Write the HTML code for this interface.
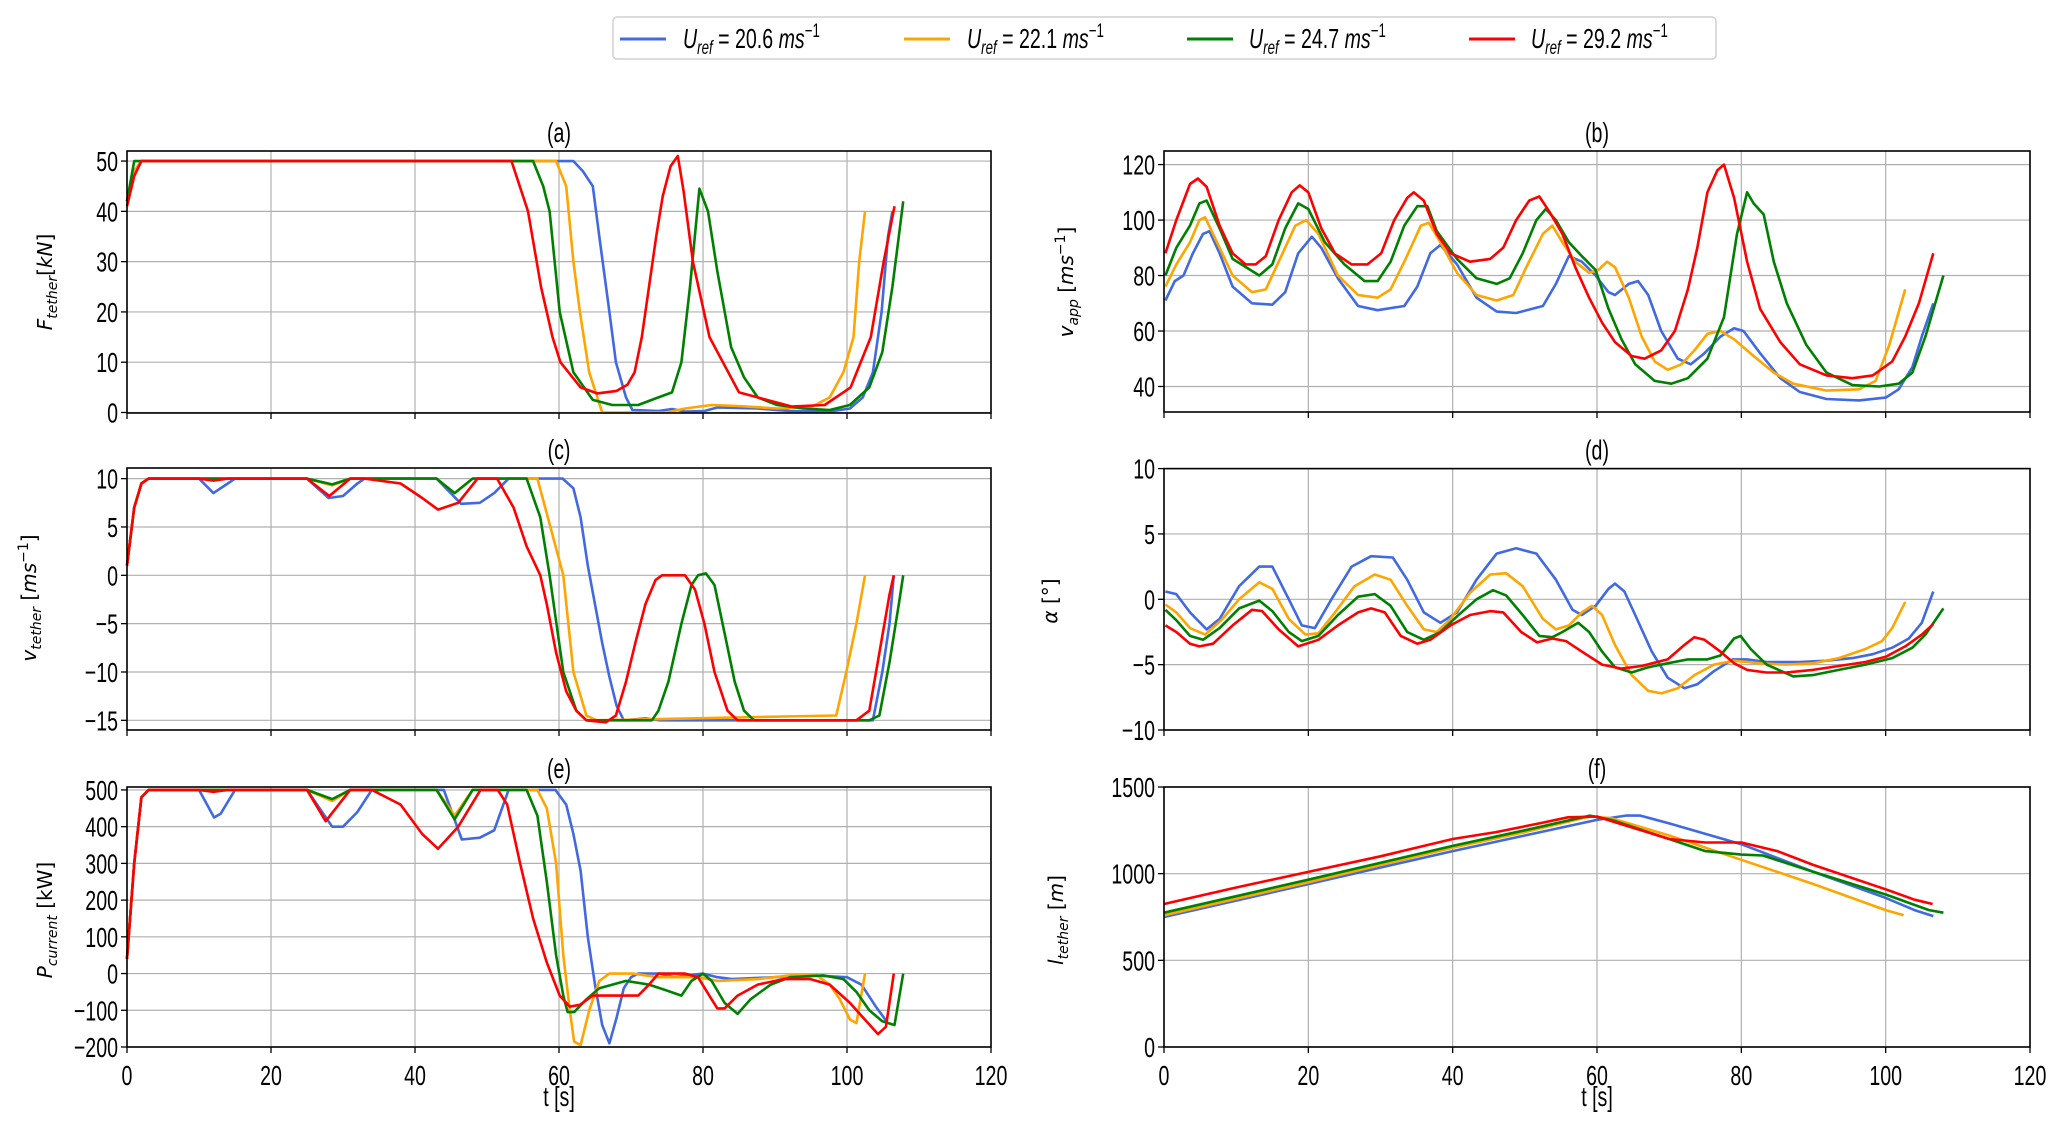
<!DOCTYPE html>
<html><head><meta charset="utf-8"><style>
html,body{margin:0;padding:0;background:#fff;}
svg{display:block;}
.tk{font-family:"Liberation Sans","DejaVu Sans",sans-serif;font-size:28px;fill:#000;}
.ml{font-family:"DejaVu Sans","Liberation Sans",sans-serif;font-size:20px;fill:#000;}
</style></head><body>
<svg id="fig" width="2067" height="1125" viewBox="0 0 2067 1125" xmlns="http://www.w3.org/2000/svg">
<rect width="2067" height="1125" fill="#fff"/>
<g>
<rect x="613" y="17" width="1103" height="42" rx="4" fill="#fff" stroke="#d0d0d0" stroke-width="1.5"/>
<g><line x1="620" y1="39" x2="666" y2="39" stroke="#4169e1" stroke-width="3"/><text class="tk" transform="translate(683,48) scale(0.7,1)"><tspan font-style="italic">U</tspan><tspan font-style="italic" font-size="19" dy="6">ref</tspan><tspan dy="-6"> = 20.6 </tspan><tspan font-style="italic">ms</tspan><tspan font-size="19" dy="-11">−1</tspan></text></g>
<g><line x1="904" y1="39" x2="950" y2="39" stroke="#ffa500" stroke-width="3"/><text class="tk" transform="translate(967,48) scale(0.7,1)"><tspan font-style="italic">U</tspan><tspan font-style="italic" font-size="19" dy="6">ref</tspan><tspan dy="-6"> = 22.1 </tspan><tspan font-style="italic">ms</tspan><tspan font-size="19" dy="-11">−1</tspan></text></g>
<g><line x1="1187" y1="39" x2="1233" y2="39" stroke="#008000" stroke-width="3"/><text class="tk" transform="translate(1249,48) scale(0.7,1)"><tspan font-style="italic">U</tspan><tspan font-style="italic" font-size="19" dy="6">ref</tspan><tspan dy="-6"> = 24.7 </tspan><tspan font-style="italic">ms</tspan><tspan font-size="19" dy="-11">−1</tspan></text></g>
<g><line x1="1469" y1="39" x2="1515" y2="39" stroke="#ff0000" stroke-width="3"/><text class="tk" transform="translate(1531,48) scale(0.7,1)"><tspan font-style="italic">U</tspan><tspan font-style="italic" font-size="19" dy="6">ref</tspan><tspan dy="-6"> = 29.2 </tspan><tspan font-style="italic">ms</tspan><tspan font-size="19" dy="-11">−1</tspan></text></g>
</g>
<text class="ml" transform="translate(52,282) rotate(-90)" text-anchor="middle"><tspan font-style="italic">F</tspan><tspan font-style="italic" font-size="14" dy="5">tether</tspan><tspan dy="-5">[</tspan><tspan font-style="italic">kN</tspan><tspan>]</tspan></text>
<text class="ml" transform="translate(36,598) rotate(-90)" text-anchor="middle"><tspan font-style="italic">v</tspan><tspan font-style="italic" font-size="14" dy="5">tether</tspan><tspan dy="-5"> [</tspan><tspan font-style="italic">ms</tspan><tspan font-size="14" dy="-8">−1</tspan><tspan dy="8">]</tspan></text>
<text class="ml" transform="translate(52,920) rotate(-90)" text-anchor="middle"><tspan font-style="italic">P</tspan><tspan font-style="italic" font-size="14" dy="5">current</tspan><tspan dy="-5"> [kW]</tspan></text>
<text class="ml" transform="translate(1073,282) rotate(-90)" text-anchor="middle"><tspan font-style="italic">v</tspan><tspan font-style="italic" font-size="14" dy="5">app</tspan><tspan dy="-5"> [</tspan><tspan font-style="italic">ms</tspan><tspan font-size="14" dy="-8">−1</tspan><tspan dy="8">]</tspan></text>
<text class="ml" transform="translate(1057,601) rotate(-90)" text-anchor="middle"><tspan font-style="italic">α</tspan><tspan> [°]</tspan></text>
<text class="ml" transform="translate(1063,920) rotate(-90)" text-anchor="middle"><tspan font-style="italic">l</tspan><tspan font-style="italic" font-size="14" dy="5">tether</tspan><tspan dy="-5"> [</tspan><tspan font-style="italic">m</tspan><tspan>]</tspan></text>
<text class="tk" transform="translate(559,1106) scale(0.7,1)" text-anchor="middle">t [s]</text>
<text class="tk" transform="translate(1597,1106) scale(0.7,1)" text-anchor="middle">t [s]</text>
</svg>
<script>
const xTicks = [0,20,40,60,80,100,120];
const seriesNames = ['u20-6','u22-1','u24-7','u29-2'];
const colors = ['#4169e1','#ffa500','#008000','#ff0000'];

// (a) F_tether
const aBlueT = [0,1,2,62,63.3,64.7,65.6,67,67.9,69.3,70.2,73.8,75.7,77.5,80.2,82,87.6,92.1,97.6,100.4,102.2,103.6,104.8,105.7,106.3];
const aBlueV = [42,48,50,50,48,45,35,20,10,3,0.5,0.3,0.7,0.2,0.3,1,0.8,0.3,0.2,0.8,3,8,20,35,40];
const aOrangeT = [0,1,2,59.6,61,62,62.9,64.2,66,75,77.5,81.2,84.8,90.3,94.9,97.6,99.5,100.9,101.7,102.5];
const aOrangeV = [42,48,50,50,45,30,20,8,0,0,0.8,1.5,1.3,0.8,1,3,8,15,30,40];
const aGreenT = [0,1,2,56.4,57.8,58.7,60.1,62,64.7,67.4,71,73.8,75.7,77,78.2,79.5,80.7,82,83.9,85.7,87.6,90.3,94,97.6,100.4,103.1,104.9,106.3,107.2,107.8];
const aGreenV = [42,50,50,50,45,40,20,8,2.5,1.5,1.5,3,4,10,25,44.5,40,28,13,7,3,1.5,0.8,0.5,1.5,5,12,25,35,42];
const aRedT = [0,1,2,53.4,55.7,57.5,59.1,60.2,63,65.3,68,69.5,70.5,71.5,72.5,73.5,74.4,75.5,76.5,77.3,78.6,80.9,85,92.3,96.9,100.5,103.3,105.1,106.6];
const aRedV = [41,47,50,50,40,25,15,10,5,3.8,4.3,5.5,8,15,25,35,43,49,51,44,30,15,4,1.2,1.5,5,15,30,41];

// (b) v_app
const bBlueT = [0.2,1.5,2.7,4,5.4,6.3,7.7,9.5,12.2,15,16.8,18.6,20.5,21.8,24.1,26.9,29.6,33.3,35.1,36.9,38.3,40.6,43.3,46.1,48.8,52.5,54.3,56.1,57.9,59.8,61.6,62.5,64.4,65.7,67.1,68.9,71.2,73,74.9,77.1,79,80.3,82.6,85.4,88.1,91.8,96.3,100,101.8,103.7,105,106.6];
const bBlueV = [71,78,80,88,95,96,88,76,70,69.5,74,88,94,90,79,69,67.5,69,76,88,91,84,72,67,66.5,69,77,87,85,80,74,73,77,78,73,60,50,48,52,58,61,60,52,43,38,35.5,35,36,39,47,58,70];
const bOrangeT = [0.2,1.7,3.6,4.9,5.7,7.7,9.5,12.2,14.1,15.9,18.2,19.7,21.4,24.1,26.9,29.6,31.4,33.3,35.6,36.7,38.3,40.6,43.3,46.1,48.4,50.2,52.5,53.8,55.2,57,58.9,60.2,61.4,62.5,64.4,66.2,68,69.8,71.7,73.5,75.3,77.1,79,81.7,84.5,87.2,91.8,96.3,98.6,100.5,102.7];
const bOrangeV = [76,84,92,100,101,90,80,74,75,85,98,100,95,80,73,72,75,85,98,99,92,81,73,71,73,83,95,98,92,85,81,82,85,83,72,58,49,46,48,53,59,60,57,51,45,41,38.5,39,42,55,75];
const bGreenT = [0.2,1.7,3.6,4.9,5.9,7.7,9.5,13.2,15,16.8,18.6,20,22.3,25,27.8,29.6,31.4,33.3,35.1,36.5,37.8,40.6,43.3,46.1,47.9,49.7,51.6,52.9,54.3,56.1,57.9,59.8,61.6,63.4,65.3,68,70.3,72.6,75.3,77.6,79.4,80.8,81.7,83.1,84.5,86.3,89,91.8,95.4,99.1,101.8,103.7,105.5,108];
const bGreenV = [80,90,98,106,107,97,86,80,84,97,106,104,92,84,78,78,85,98,105,105,96,86,79,77,79,88,100,104,100,92,87,82,68,57,48,42,41,43,50,65,95,110,106,102,85,70,55,45,40.5,40,41,45,58,80];
const bRedT = [0.2,1.7,3.6,4.7,5.9,7.7,9.5,11.3,12.7,14.1,15.9,17.7,18.8,20,21.8,23.7,26,28.2,30.1,31.9,33.7,34.6,36,37.8,39.7,42.4,45.2,47,48.8,50.6,52,53.4,55.2,57,58.9,60.7,62.5,64.8,66.6,68.9,70.8,72.6,73.9,75.3,76.7,77.6,79,80.8,82.6,85.4,88.1,91.8,95.4,98.2,100.9,102.7,104.6,106.6];
const bRedV = [88,100,113,115,112,98,88,84,84,87,100,110,112.5,110,97,88,84,84,88,100,108,110,107,95,88,85,86,90,100,107,108.5,103,95,83,72,63,56,51,50,53,60,75,90,110,118,120,108,85,68,56,48,44,43,44,49,58,70,88];

// (c) v_tether
const cBlueT = [0,1,2,3,10,12,14,15,25,28,30,32,33,43,46.4,49,51,53,60.5,62,63,64,65,66,67,68,69,72,74,103.6,104.9,105.9,106.5];
const cBlueV = [1,7,9.5,10,10,8.5,9.5,10,10,8,8.2,9.5,10,10,7.4,7.5,8.5,10,10,9,6,1,-3,-7,-10.5,-13.5,-15,-14.8,-15,-15,-10,-5,0];
const cOrangeT = [0,1,2,3,25,28.5,31,43,45.5,48,57,58.8,60.6,62,63.8,65.2,98.5,99.9,101.3,102.5];
const cOrangeV = [1,7,9.5,10,10,9.3,10,10,8.5,10,10,5,0,-10,-14.5,-15,-14.5,-10,-5,0];
const cGreenT = [0,1,2,3,25,28.5,31,43,45.5,48,55.5,57.4,58.7,60.6,62.4,63.8,72.9,73.8,75.2,77,78.4,79.3,80.4,81.6,83,84.4,85.7,87.1,103.1,104.5,105.9,107.2,107.8];
const cGreenV = [1,7,9.5,10,10,9.4,10,10,8.5,10,10,6,0,-10,-14,-15,-15,-14,-11,-5,-1,0,0.2,-1,-6,-11,-14,-15,-15,-14.5,-9,-3,0];
const cRedT = [0,1,2,3,10,12,14,25,28.1,31,33,38,41,43.2,46,48.7,51.4,53.7,55.5,57.4,58.3,59.6,61,62.4,63.8,66.5,67.9,69.3,70.6,72,73.4,74.3,77.5,78.9,80.2,81.6,83.4,84.8,101.3,103.1,104.5,105.9,106.5];
const cRedV = [1,7,9.5,10,10,9.8,10,10,8.2,10,10,9.5,8,6.8,7.5,10,10,7,3,0,-3,-8,-12,-14,-15,-15.2,-14.5,-11,-7,-3,-0.5,0,0,-1.5,-5,-10,-14,-15,-15,-14,-8,-2,0];

// (d) alpha
const dBlueT = [0.2,1.7,3.6,5.9,7.7,10.4,13.2,15,17.3,19.1,20.9,23.2,26,28.7,31.7,33.7,36,38.3,40.6,43.3,46.1,48.8,51.6,54.3,56.6,57.9,59.8,61.6,62.5,63.8,65.3,67.6,69.8,72.1,73.9,76.2,78.8,80.8,83.5,88.1,91.8,95.4,98.2,100.9,103.2,105,106.6];
const dBlueV = [0.6,0.4,-1,-2.3,-1.5,1,2.5,2.5,0,-2,-2.2,0,2.5,3.3,3.2,1.5,-1,-1.8,-1,1.5,3.5,3.9,3.5,1.5,-0.8,-1.2,-0.5,0.8,1.2,0.6,-1.2,-4,-6,-6.8,-6.5,-5.5,-4.6,-4.6,-4.8,-4.8,-4.7,-4.5,-4.2,-3.7,-3,-1.8,0.6];
const dOrangeT = [0.2,1.7,3.6,5.7,8.1,10.4,13.2,15,17.3,19.6,21.4,23.7,26.4,29.2,31.4,33.7,36,37.8,39.7,42.4,45.2,47.4,49.7,52.5,54.3,56.1,57.9,59.3,60.7,62.5,64.8,67.1,68.9,71.2,73.5,76.2,79,82.6,86.2,89.9,93.5,97.2,99.5,100.9,102.7];
const dOrangeV = [-0.4,-1,-2.2,-2.7,-1.5,0,1.3,0.8,-1.5,-2.7,-2.6,-1,1,1.9,1.5,-0.5,-2.3,-2.5,-1.5,0.5,1.9,2,1,-1.5,-2.3,-2,-1,-0.5,-1.2,-3.5,-5.8,-7,-7.2,-6.8,-5.8,-5,-4.7,-4.9,-5,-4.9,-4.5,-3.8,-3.2,-2.2,-0.2];
const dGreenT = [0.2,1.7,3.6,5.4,7.7,10.4,13.2,15,17.3,19.1,21.4,24.1,26.9,29.2,31.4,33.7,36,38.3,40.6,43.3,45.6,47.4,49.7,52,53.8,55.2,57.4,58.9,60.7,62.5,64.8,67.1,69.8,72.6,75.3,77.1,79,79.9,81.3,83.5,87.2,89.9,93.5,97.2,100.9,103.7,105.5,108];
const dGreenV = [-0.8,-1.6,-2.8,-3.1,-2.2,-0.7,-0.1,-0.9,-2.5,-3.2,-2.8,-1.2,0.2,0.4,-0.5,-2.5,-3.1,-2.5,-1.3,0,0.7,0.3,-1.2,-2.8,-2.9,-2.5,-1.8,-2.5,-4,-5.2,-5.6,-5.2,-4.9,-4.6,-4.6,-4.3,-3,-2.8,-3.8,-5,-5.9,-5.8,-5.4,-5,-4.5,-3.7,-2.7,-0.7];
const dRedT = [0.2,1.7,3.6,4.9,6.8,9.5,12.2,13.6,15.9,18.6,21.4,24.1,26.9,28.7,30.6,32.8,35.1,36.9,39.7,42.4,45.2,47,49.5,51.7,53.8,55.7,57.9,60.7,63.4,66.2,69.8,72.1,73.5,74.9,77.1,79,80.8,83.5,86.2,89.9,93.5,97.2,100,102.7,105,106.6];
const dRedV = [-2,-2.5,-3.4,-3.6,-3.4,-2,-0.8,-0.9,-2.3,-3.6,-3.1,-2,-1,-0.7,-1,-2.8,-3.4,-3.1,-2,-1.2,-0.9,-1,-2.5,-3.3,-3,-3.2,-4,-5,-5.3,-5.1,-4.6,-3.5,-2.9,-3.1,-4,-4.9,-5.4,-5.6,-5.6,-5.4,-5.1,-4.8,-4.4,-3.6,-2.7,-1.9];

// (e) P_current
const eBlueT = [0,1,2,3,10,12.1,13,15,25,28.5,30,32,34,44,46.5,49,51,53,59.5,61,62,63,64,65,66,67,68,69,70,71,74,76,78,80,82,84,90,95,100,102,104,105.5];
const eBlueV = [40,300,480,500,500,425,435,500,500,400,400,440,500,500,365,370,390,500,500,460,380,280,100,-30,-140,-190,-120,-40,-10,0,0,-10,-5,0,-10,-15,-10,-5,-10,-30,-90,-130];
const eOrangeT = [0,1,2,3,25,28.5,31,43,45.5,48,57,58.3,59.6,60.6,61.5,62.1,63,64.2,65.6,67,70.2,73.8,79.3,82,87.6,92.1,95.8,97.6,99,100.4,101.3,102.5];
const eOrangeV = [40,300,480,500,500,470,500,500,430,500,500,450,300,50,-100,-185,-195,-100,-20,0,0,-10,-10,-20,-15,-5,-5,-30,-70,-125,-135,0];
const eGreenT = [0,1,2,3,25,28.5,31,43,45.5,48,55.5,57,58.3,59.6,60.6,61.2,62.1,63.8,65.6,69.3,72.5,74.8,77,78.4,80,81.2,83,84.8,86.6,89.4,92.1,96.7,99.5,101.3,103.1,104.9,106.6,107.8];
const eGreenV = [40,300,480,500,500,475,500,500,420,500,500,430,250,50,-60,-105,-105,-70,-40,-20,-30,-45,-60,-20,0,-20,-80,-110,-70,-30,-10,-5,-15,-50,-100,-130,-140,0];
const eRedT = [0,1,2,3,10,12,14,25,27.6,31,34,38,41,43.2,46,49.1,51.5,52.8,54.6,56.4,58.3,60.1,61.5,62.9,64.7,67.4,71,72.5,73.8,77.5,79.3,81.2,82,83,84.8,87.6,91.2,94.9,97.6,100.4,102.7,104.3,105.4,106.5];
const eRedV = [40,300,480,500,500,495,500,500,415,500,500,460,380,340,400,500,500,460,300,150,30,-60,-90,-85,-60,-60,-60,-30,0,0,-10,-70,-95,-95,-60,-30,-15,-15,-30,-80,-130,-165,-145,0];

// (f) l_tether
const fBlueT = [0,20,40,50,60,64,66,70,80,90,100,104,106.6];
const fBlueV = [750,940,1130,1220,1310,1335,1335,1290,1170,1010,860,790,755];
const fOrangeT = [0,20,40,50,59,62,70,80,90,100,102.5];
const fOrangeV = [760,950,1150,1240,1330,1320,1220,1080,940,790,760];
const fGreenT = [0,20,40,50,59,62,70,75,80,83,90,100,106,108];
const fGreenV = [775,965,1160,1250,1335,1310,1200,1130,1110,1105,1010,880,790,775];
const fRedT = [0,10,20,30,40,46,52,56,60,63,70,75,80,85,90,100,104,106.5];
const fRedV = [825,920,1010,1100,1200,1240,1290,1325,1330,1290,1200,1180,1180,1130,1050,910,850,825];

const aTicks = [0,10,20,30,40,50];
const bTicks = [40,60,80,100,120];
const cTicks = [10,5,0,-5,-10,-15];
const dTicks = [10,5,0,-5,-10];
const eTicks = [500,400,300,200,100,0,-100,-200];
const fTicks = [0,500,1000,1500];

const NS='http://www.w3.org/2000/svg';
const fig=document.getElementById('fig');
function mk(tag,attrs,parent){const e=document.createElementNS(NS,tag);for(const k in attrs)e.setAttribute(k,attrs[k]);(parent||fig).appendChild(e);return e;}
function fmt(v){return v<0?'\u2212'+Math.abs(v):String(v);}

function panel(id,x0,x1,y0,y1,ymin,ymax,yticks,showX,series){
  const g=mk('g',{});
  
  
  const sx=t=>x0+t/120*(x1-x0);
  const sy=v=>y1-(v-ymin)/(ymax-ymin)*(y1-y0);
  xTicks.forEach(t=>{
    const l=mk('line',{x1:sx(t),x2:sx(t),y1:y0,y2:y1,stroke:'#b0b0b0','stroke-width':1.2},g);
    
    
    mk('line',{x1:sx(t),x2:sx(t),y1:y1,y2:y1+6,stroke:'#000','stroke-width':1.3},g);
    if(showX){
      const tx=mk('text',{transform:'translate('+sx(t)+','+(y1+38)+') scale(0.7,1)','text-anchor':'middle',class:'tk'},g);
      tx.textContent=t;
      
      
    }
  });
  yticks.forEach(v=>{
    const y=sy(v);
    const l=mk('line',{x1:x0,x2:x1,y1:y,y2:y,stroke:'#b0b0b0','stroke-width':1.2},g);
    
    
    mk('line',{x1:x0-6,x2:x0,y1:y,y2:y,stroke:'#000','stroke-width':1.3},g);
    const tx=mk('text',{transform:'translate('+(x0-9)+','+(y+10)+') scale(0.7,1)','text-anchor':'end',class:'tk'},g);
    tx.textContent=fmt(v);
    
    
  });
  series.forEach((s,i)=>{
    const pts=s[0].map((t,k)=>sx(t).toFixed(1)+','+sy(s[1][k]).toFixed(1)).join(' ');
    const p=mk('polyline',{points:pts,fill:'none',stroke:colors[i],'stroke-width':2.6,'stroke-linejoin':'round'},g);
    
    
  });
  const fr=mk('rect',{x:x0,y:y0,width:x1-x0,height:y1-y0,fill:'none',stroke:'#000','stroke-width':1.6},g);
  
  
  const tt=mk('text',{transform:'translate('+((x0+x1)/2)+','+(y0-9)+') scale(0.7,1)','text-anchor':'middle',class:'tk','font-size':30},g);
  tt.textContent='('+id+')';
  
  
}
const LX0=127,LX1=991,RX0=1164,RX1=2030;
panel('a',LX0,LX1,151,413,-0.1,52,aTicks,false,[[aBlueT,aBlueV],[aOrangeT,aOrangeV],[aGreenT,aGreenV],[aRedT,aRedV]]);
panel('b',RX0,RX1,151,412,30.8,124.9,bTicks,false,[[bBlueT,bBlueV],[bOrangeT,bOrangeV],[bGreenT,bGreenV],[bRedT,bRedV]]);
panel('c',LX0,LX1,468,730,-16,11.1,cTicks,false,[[cBlueT,cBlueV],[cOrangeT,cOrangeV],[cGreenT,cGreenV],[cRedT,cRedV]]);
panel('d',RX0,RX1,468.6,730,-10,10,dTicks,false,[[dBlueT,dBlueV],[dOrangeT,dOrangeV],[dGreenT,dGreenV],[dRedT,dRedV]]);
panel('e',LX0,LX1,787,1047,-200,508,eTicks,true,[[eBlueT,eBlueV],[eOrangeT,eOrangeV],[eGreenT,eGreenV],[eRedT,eRedV]]);
panel('f',RX0,RX1,787,1047,0,1500,fTicks,true,[[fBlueT,fBlueV],[fOrangeT,fOrangeV],[fGreenT,fGreenV],[fRedT,fRedV]]);
</script>
</body></html>
